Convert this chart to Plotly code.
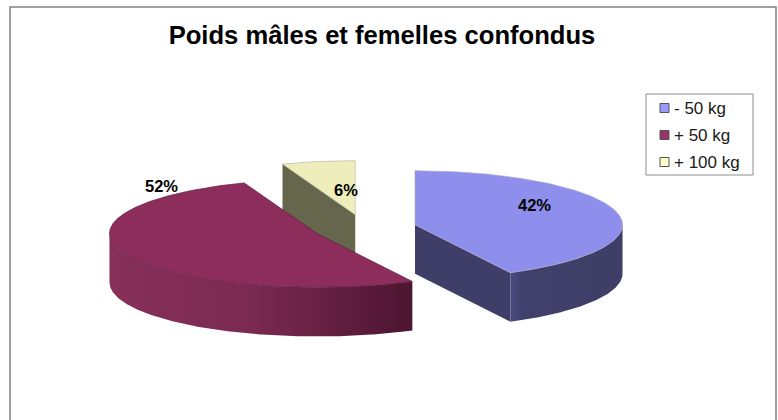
"""Camembert 3D éclaté : poids mâles et femelles confondus."""

import numpy as np
import plotly.graph_objects as go

# Données
CATEGORIES = ["- 50 kg", "+ 50 kg", "+ 100 kg"]
VALUES = [42.4, 51.9, 5.7]
TITLE = "Poids mâles et femelles confondus"

# Couleurs par part
C_SWATCH = ["#9999FF", "#993366", "#FFFFCC"]
C_TOP = ["#8E8EED", "#8C2D5C", "#EEEEBC"]
C_EDGE = ["#A8A8C8", "#5E1F3E", "#B8B8A0"]
C_WALL = ["#3E3E68", "#6E2448", "#66664D"]
C_SIDE = [
    [[0, "#4A4A82"], [0.1, "#40406C"], [1, "#3E3E66"]],
    [[0, "#86305A"], [0.45, "#7C2A52"], [1, "#4C1530"]],
    [[0, "#66664D"], [1, "#66664D"]],
]

# Géométrie de la projection (pixels)
W, H = 778, 420
CX, CY = 364.5, 228
RX, RY = 207.5, 54
DEPTH = 49
EXPLODE = 52
LABEL_POS = [(534, 205), (161, 186), (346, 190)]


def rim(cx, cy, a0, a1, dz=0):
    """Arc de l'ellipse, angles en degrés depuis midi, sens horaire."""
    t = np.radians(np.linspace(a0, a1, max(int(abs(a1 - a0)) * 2, 2)))
    return cx + RX * np.sin(t), cy - RY * np.cos(t) + dz


def add_poly(fig, x, y, fill, line=None, gradient=None):
    """Ajoute un polygone plein, couleur unie ou dégradé horizontal."""
    trace = dict(
        x=np.append(x, x[0]), y=np.append(y, y[0]),
        mode="lines", fill="toself", hoverinfo="skip", showlegend=False,
        line=dict(color=line or "rgba(0,0,0,0)", width=0.7),
    )
    if gradient:
        trace["fillgradient"] = dict(type="horizontal", colorscale=gradient)
    else:
        trace["fillcolor"] = fill
    fig.add_trace(go.Scatter(**trace))


def add_wall(fig, cx, cy, a, color):
    """Paroi radiale de la part, du centre jusqu'au bord."""
    ex, ey = rim(cx, cy, a, a)
    xs = np.array([cx, ex[0], ex[0], cx])
    ys = np.array([cy, ey[0], ey[0] + DEPTH, cy + DEPTH])
    add_poly(fig, xs, ys, color)


fig = go.Figure()

# Angles cumulés à partir des valeurs
total = sum(VALUES)
ends = np.cumsum(VALUES) / total * 360
starts = np.concatenate([[0], ends[:-1]])

# De l'arrière vers l'avant : + 100 kg, + 50 kg, - 50 kg
for i in [2, 1, 0]:
    a0, a1 = starts[i], ends[i]
    mid = np.radians((a0 + a1) / 2)
    cx = CX + EXPLODE * np.sin(mid)
    cy = CY - EXPLODE * RY / RX * np.cos(mid)

    # parois visibles
    if np.cos(np.radians(a0 - 90)) < -1e-6:
        add_wall(fig, cx, cy, a0, C_WALL[i])
    if np.cos(np.radians(a1 + 90)) < -1e-6:
        add_wall(fig, cx, cy, a1, C_WALL[i])

    # flanc courbe : seulement la moitié avant de l'ellipse
    f0, f1 = max(a0, 90), min(a1, 270)
    if f1 > f0:
        tx, ty = rim(cx, cy, f0, f1)
        bx, by = rim(cx, cy, f1, f0, DEPTH)
        grad = C_SIDE[i]
        add_poly(fig, np.concatenate([tx, bx]), np.concatenate([ty, by]),
                 None, gradient=grad)

    # dessus
    tx, ty = rim(cx, cy, a0, a1)
    add_poly(fig, np.concatenate([[cx], tx]), np.concatenate([[cy], ty]),
             C_TOP[i], line=C_EDGE[i])

# Étiquettes de pourcentage
for v, (lx, ly) in zip(VALUES, LABEL_POS):
    fig.add_annotation(
        x=lx, y=ly, text=f"<b>{round(v)}%</b>", showarrow=False,
        font=dict(family="Liberation Sans", size=16.5, color="#000000"),
    )

# Légende
LEG_X0, LEG_Y0, LEG_X1, LEG_Y1 = 646, 94, 753, 175
LEG_STEP = 27
fig.add_shape(type="rect", x0=LEG_X0, y0=LEG_Y0, x1=LEG_X1, y1=LEG_Y1,
              line=dict(color="#8C8C8C", width=1), fillcolor="#FFFFFF",
              layer="between")
leg_y = [LEG_Y0 + 14 + k * LEG_STEP for k in range(len(CATEGORIES))]
fig.add_trace(go.Scatter(
    x=[664.5] * len(CATEGORIES), y=leg_y,
    mode="markers", hoverinfo="skip", showlegend=False,
    marker=dict(symbol="square", size=9, color=C_SWATCH,
                line=dict(color="#555555", width=1)),
))
for name, y in zip(CATEGORIES, leg_y):
    fig.add_annotation(
        x=672, y=y, text=name, showarrow=False, xanchor="left",
        font=dict(family="Liberation Sans", size=17, color="#1A1A1A"),
    )

# Cadre du graphique, le bas sort de la page
fig.add_shape(type="rect", x0=10, y0=7, x1=776, y1=H + 10,
              line=dict(color="#808080", width=1.5), layer="below")

fig.update_layout(
    width=W, height=H,
    margin=dict(l=0, r=0, t=0, b=0),
    plot_bgcolor="#FFFFFF", paper_bgcolor="#FFFFFF",
    showlegend=False,
    title=dict(
        text=f"<b>{TITLE}</b>",
        font=dict(family="Liberation Sans", size=25.6, color="#000000"),
        x=382 / W, xanchor="center", y=1 - 35 / H, yanchor="middle",
    ),
)
fig.update_xaxes(range=[0, W], visible=False, fixedrange=True)
fig.update_yaxes(range=[H, 0], visible=False, fixedrange=True)

fig.write_html(
    "out.html",
    config=dict(displayModeBar=False),
    post_script="document.body.style.margin = '0';",
)
